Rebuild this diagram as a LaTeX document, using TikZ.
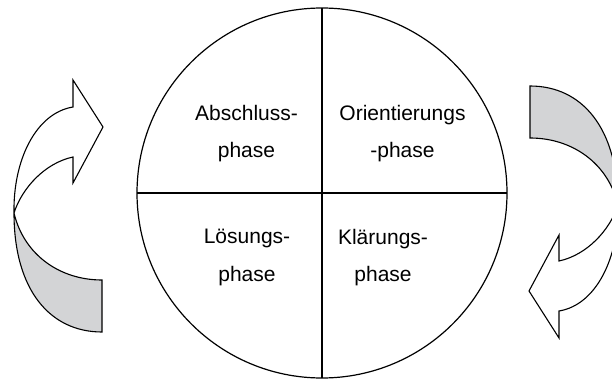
\documentclass[tikz,border=0pt]{standalone}
\usepackage{fontspec}
\setmainfont{Liberation Sans}
\definecolor{ribbongray}{RGB}{211,212,214}
\tikzset{
    disk/.style={circle, draw=black, line width=1.2pt, minimum size=370pt, inner sep=0pt, outer sep=0pt},
    phasetext/.style={align=center, inner sep=0pt, font=\fontsize{21}{37.5}\selectfont},
    ribbon/.style={draw=black, line width=1.1pt, line join=miter},
    turnarrow/.pic={
        % graue Rueckseite des Bandes
        \fill[ribbongray] (14,213) .. controls (24,255) and (60,280) .. (102,280)
            -- (102,332) .. controls (50,332) and (14,290) .. (14,213) -- cycle;
        % Umriss mit Pfeilspitze
        \draw[ribbon] (103,127) -- (73,80) -- (73,107)
            .. controls (36,113) and (13,160) .. (14,213)
            .. controls (14,290) and (50,332) .. (102,332)
            -- (102,280) .. controls (60,280) and (24,255) .. (14,213)
            .. controls (22,188) and (45,163) .. (73,157)
            -- (73,183) -- cycle;
    }
}

\begin{document}
\begin{tikzpicture}[x=1pt, y=-1pt]
    \useasboundingbox (0,0) rectangle (612,379);

    % 1. KREIS MIT VIER FELDERN
    \node[disk] (wheel) at (322,193) {};
    \draw[line width=1.2pt] (wheel.north) -- (wheel.south);
    \draw[line width=1.2pt] (wheel.west) -- (wheel.east);

    % 2. PHASEN
    \node[phasetext] (abschluss) at (246.5,133.5) {Abschluss-\\phase};
    \node[phasetext] (orient) at (402.5,133.5) {Orientierungs\\-phase};
    \node[phasetext] (loesung) at (247,257.5) {Lösungs-\\phase};
    \node[phasetext] (klaerung) at (383,257.5) {Klärungs-\\phase};

    % 3. GEBOGENE PFEILE (rechts gedreht und am Rand abgeschnitten)
    \pic at (0,0) {turnarrow};
    \begin{scope}
        \clip (0,0) rectangle (612,379);
        \pic[rotate=180] at (632,418) {turnarrow};
    \end{scope}

\end{tikzpicture}
\end{document}
